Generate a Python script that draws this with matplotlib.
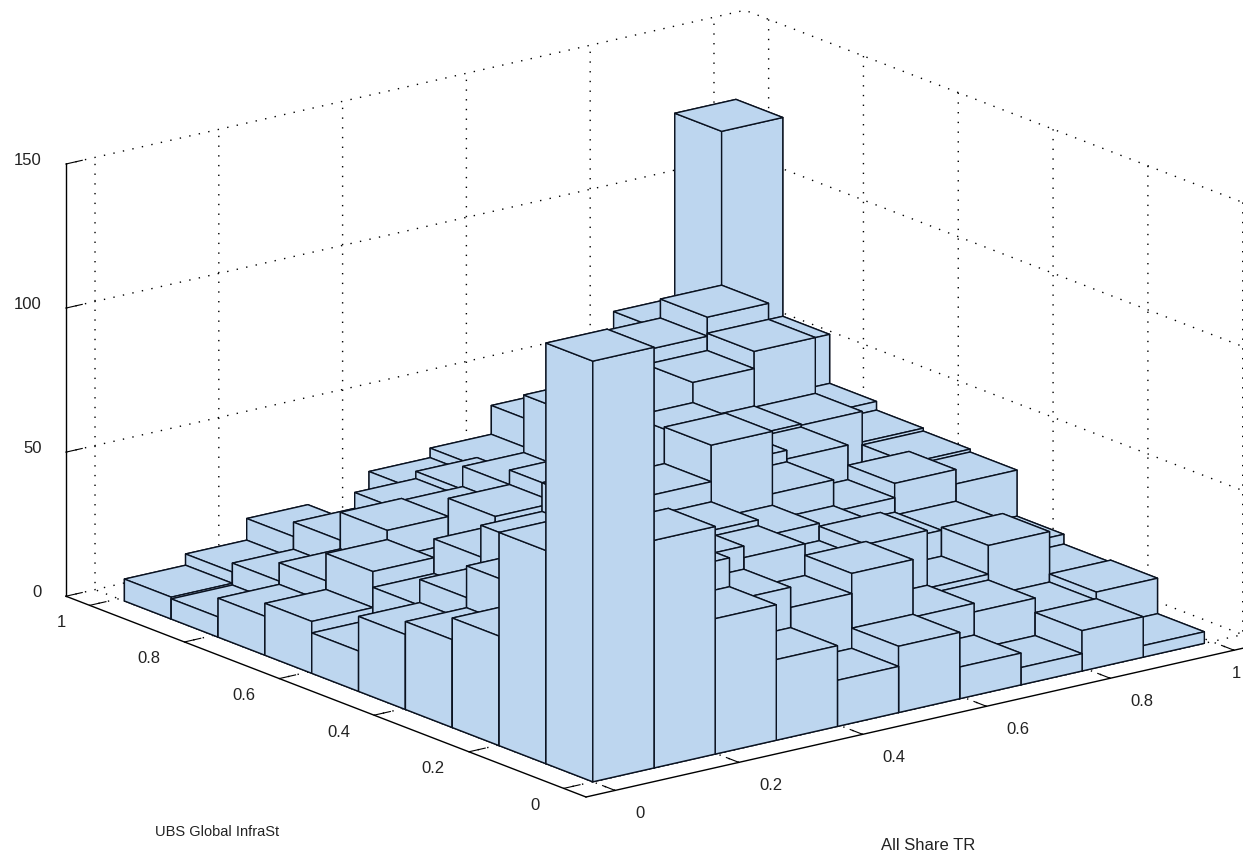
import matplotlib
matplotlib.use("Agg")
import matplotlib.pyplot as plt
from mpl_toolkits.mplot3d import proj3d

plt.rcParams['font.family'] = ['Liberation Sans', 'DejaVu Sans']

# counts per bin, one list per x bin, y bins run 0 to 9
x_bin_0 = [146, 74, 38, 30.5, 26, 14, 18, 13.5, 7, 7.6]
x_bin_1 = [79, 70, 46, 45, 34, 25, 30.5, 21, 14.6, 11.5]
x_bin_2 = [47, 57, 50, 40, 48, 37, 24, 33.7, 24, 19]
x_bin_3 = [28, 42, 50, 50, 58, 35, 40, 33, 29.5, 12]
x_bin_4 = [16, 35, 46, 48, 55, 46, 45, 40, 32, 25.7]
x_bin_5 = [23, 42, 36, 42, 67.7, 40, 30, 60, 25, 29]
x_bin_6 = [11, 22, 41, 37, 46, 50, 54, 45, 38, 39]
x_bin_7 = [6, 19, 21, 30, 35, 47, 48, 61, 66, 45]
x_bin_8 = [14, 13.5, 31, 29, 40, 20, 47.6, 67, 72.6, 62]
x_bin_9 = [4, 16.3, 15.6, 19, 35, 36, 37, 40, 57, 126]
counts = [x_bin_0, x_bin_1, x_bin_2, x_bin_3, x_bin_4,
          x_bin_5, x_bin_6, x_bin_7, x_bin_8, x_bin_9]

bin_width = 0.0988
xy_ticks = [0, 0.2, 0.4, 0.6, 0.8, 1]
xy_labels = ['0', '0.2', '0.4', '0.6', '0.8', '1']
z_ticks = [0, 50, 100, 150]
z_labels = ['0', '50', '100', '150']
x_label = 'All Share TR'
y_label = 'UBS Global InfraSt'

W, H = 1243, 858
xy_min, xy_max = -0.047, 1.05

fig = plt.figure(figsize=(W / 100, H / 100), dpi=100)
ax = fig.add_subplot(projection='3d', computed_zorder=False)
ax.set_proj_type('ortho')
ax.view_init(elev=17.2, azim=-127.45)
ax.set_box_aspect((1, 1, 0.529))
ax.set_xlim(xy_min, xy_max)
ax.set_ylim(xy_min, xy_max)
ax.set_zlim(0, 150)
ax.patch.set_visible(False)

for axis in (ax.xaxis, ax.yaxis, ax.zaxis):
    axis.set_pane_color((1, 1, 1, 0))
    axis.pane.set_edgecolor((1, 1, 1, 0))
    axis.line.set_color('black')
    axis.line.set_linewidth(1.0)
    axis._axinfo['grid'].update(color='black', linewidth=1.0, linestyle=(0, (1, 6)))
    axis._axinfo['tick'].update(inward_factor=0.0, outward_factor=0.3)

ax.set_xticks(xy_ticks)
ax.set_xticklabels([])
ax.set_yticks(xy_ticks)
ax.set_yticklabels([])
ax.set_zticks(z_ticks)
ax.set_zticklabels([])

# back to front, each bar on its own so they overlap properly
for i, row in enumerate(counts):
    for j, h in enumerate(row):
        bar = ax.bar3d(i * bin_width, j * bin_width, 0, bin_width, bin_width, h,
                       color='#bdd6ef', edgecolor='#0a1220', linewidth=1.0, shade=False)
        bar.set_zorder(100 - i - j)


def px(x, y, z):
    u, v, _ = proj3d.proj_transform(x, y, z, ax.get_proj())
    return ax.transData.transform((u, v))


# size the axes so the floor corner and x axis land where they should
side = 800
ax.set_position([0, 0, side / W, side / H])
ax.apply_aspect()
span = px(xy_max, xy_min, 0)[0] - px(xy_min, xy_min, 0)[0]
side = side * 679 / span
ax.set_position([0, 0, side / W, side / H])
ax.apply_aspect()
corner = px(xy_min, xy_min, 0)
left, bottom = 586 - corner[0], (H - 797) - corner[1]
ax.set_position([left / W, bottom / H, side / W, side / H])
ax.apply_aspect()


def tick_text(p, dx, dy, s, ha):
    fig.text((p[0] + dx) / W, (p[1] + dy) / H, s, ha=ha, va='center', fontsize=12, color='#222222')


# tick labels sit off the tick ends, matlab style
for v, s in zip(xy_ticks, xy_labels):
    # the last x label has to stay inside the picture
    tick_text(px(v, xy_min, 0), 20 if v < 1 else -2, -23, s, 'left')
    tick_text(px(xy_min, v, 0), -24, -17, s, 'right')
for v, s in zip(z_ticks, z_labels):
    tick_text(px(xy_min, xy_max, v), -24, 4, s, 'right')

fig.text(217 / W, 1 - 832 / H, y_label, ha='center', va='center', fontsize=10.5, color='#222222')
fig.text(928 / W, 1 - 846 / H, x_label, ha='center', va='center', fontsize=12, color='#222222')

fig.savefig('out.png', dpi=100)
